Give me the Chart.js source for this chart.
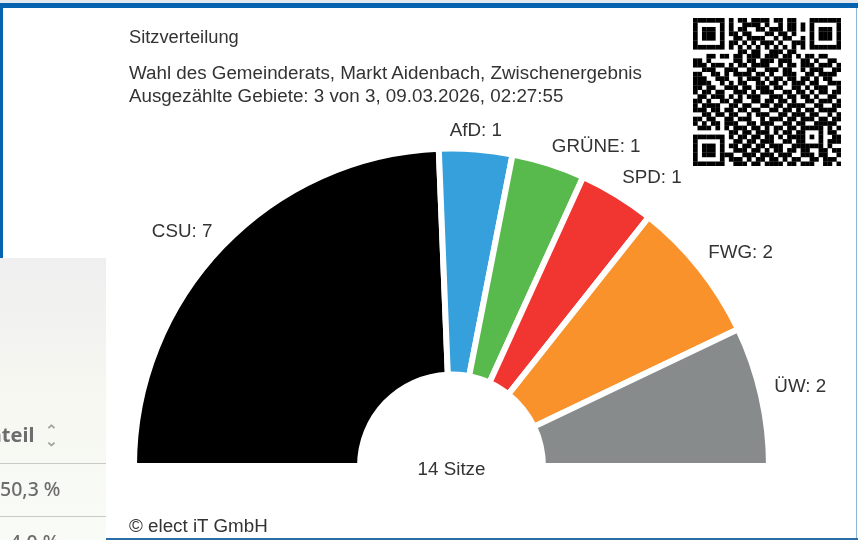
<!DOCTYPE html>
<html lang="de">
<head>
<meta charset="utf-8">
<title>Sitzverteilung</title>
<script src="https://cdn.jsdelivr.net/npm/chart.js@4"></script>
<style>
  html, body { margin: 0; padding: 0; background: #fff; }
  body { width: 858px; height: 540px; position: relative; overflow: hidden; font-family: "Liberation Sans", sans-serif; color: #333; }
  #chart { position: absolute; left: 0; top: 0; }
  .frame { position: absolute; background: #0563af; }
  .txt { position: absolute; left: 129px; font-size: 18.8px; line-height: 20px; white-space: nowrap; }
  #side { position: absolute; left: 0; top: 258px; width: 106px; height: 282px; overflow: hidden;
    background: linear-gradient(#efefef, #f3f3f1 30%, #f6f7f0 45%, #f9fbf7 100%); }
  #side div { position: absolute; font-family: "Noto Sans", sans-serif; color: #6d6d6d; white-space: nowrap; filter: blur(0.5px); }
  #side .rule { left: 0; width: 106px; height: 1px; background: #c9c9c6; filter: none; }
  #qr { position: absolute; left: 693px; top: 18px; filter: blur(0.7px); }
</style>
</head>
<body>
<div class="frame" style="left:0;top:0;width:858px;height:3px;background:#e4e9ed"></div>
<div class="frame" style="left:0;top:3px;width:858px;height:5px"></div>
<div class="frame" style="left:0;top:3px;width:3px;height:255px"></div>
<div class="frame" style="left:856px;top:8px;width:1px;height:531px;background:#8fb3d3"></div>
<div class="frame" style="left:106px;top:538px;width:752px;height:1.5px;background:#2a6ea8"></div>

<canvas id="chart" width="858" height="540"></canvas>

<div class="txt" style="top:27px;font-size:18.3px">Sitzverteilung</div>
<div class="txt" style="top:63px">Wahl des Gemeinderats, Markt Aidenbach, Zwischenergebnis</div>
<div class="txt" style="top:86px">Ausgezählte Gebiete: 3 von 3, 09.03.2026, 02:27:55</div>
<div class="txt" style="top:516px">© elect iT GmbH</div>

<div id="side">
  <div style="left:-25px;top:163px;font-size:20px;font-weight:700">Anteil</div>
  <div style="left:46px;top:166px;font-size:14px;line-height:11px;font-weight:700;color:#a3a3a3;transform:scaleX(1.1)">⌃<br>⌄</div>
  <div class="rule" style="top:205px"></div>
  <div style="left:0;top:217px;font-size:19.5px;font-weight:500">50,3 %</div>
  <div class="rule" style="top:258px"></div>
  <div style="left:10px;top:270px;font-size:19.5px;font-weight:500">4,0 %</div>
</div>

<canvas id="qr" width="148" height="148"></canvas>

<script>
const parties = ['CSU', 'AfD', 'GRÜNE', 'SPD', 'FWG', 'ÜW'];
const seats = [7, 1, 1, 1, 2, 2];
// slice sizes in degrees as they are drawn in the picture, not quite seats * 180 / 14
const sliceDegrees = [87.7, 13.4, 13.4, 13.9, 26.1, 25.5];
const partyColors = ['#000000', '#35a0dc', '#58b94d', '#f13531', '#fa922c', '#888b8b'];
const centerLabel = '14 Sitze';

// nudges so the labels land where the reference has them
const labelShiftX = [-13, -3, 36, 15, 11, 2];
const labelShiftY = [12, 19, 19, 15, 8, -0.5];

const qrRows = [
  '1111111 0 10110111101101100 0 1111111',
  '1000001 0 10011110100101101 0 1000001',
  '1011101 0 10110011011101101 0 1011101',
  '1011101 0 11011000110110100 0 1011101',
  '1011101 0 01101111001011001 0 1011101',
  '1000001 0 11010101110100111 0 1000001',
  '1111111 0 10101010101010101 0 1111111',
  '0000000 0 00110110011101100 0 0000000',
  '0001101101 1011101110 1101011011 000',
  '1101000001 1011011101 1100110100 110',
  '1110111010 1101111001 0110111011 101',
  '0011100111 0011001110 1100101110 011',
  '1100110101 1110110100 1110011011 110',
  '1110011100 1011101011 0110110101 100',
  '1111001010 1100110110 1011101100 111',
  '1101100111 0110111011 0011010111 001',
  '1011011001 1101011100 1101101011 011',
  '0110111010 1011100111 0110110100 110',
  '1101001101 1001101101 1010011011 101',
  '1011110011 0110011011 0111100110 011',
  '1110110110 1101100110 1101011011 110',
  '0011011011 0010111001 1011101100 101',
  '1101100110 1110010111 0110111011 011',
  '1010110111 0011011100 1101100111 110',
  '0111010101 1101101011 0110111110 101',
  '0000000011 0110111010 1101100010 110',
  '1111111010 1101101101 0111101010 011',
  '1000001001 1011011100 1101100010 111',
  '1011101011 0110110111 0011111110 100',
  '1011101001 1101101011 0110110011 011',
  '1011101110 0111011101 1100111011 001',
  '1000001011 1010110110 1011001101 110',
  '1111111001 1101101111 0110111001 101'
];

const qrCtx = document.getElementById('qr').getContext('2d');
const cell = 148 / qrRows.length;
qrCtx.fillStyle = '#000';
qrRows.forEach((row, y) => {
  [...row.replace(/ /g, '')].forEach((c, x) => {
    if (c === '1') qrCtx.fillRect(x * cell, y * cell, cell + 0.2, cell + 0.2);
  });
});

const outerLabels = {
  id: 'outerLabels',
  afterDatasetsDraw(chart) {
    const { ctx } = chart;
    const arcs = chart.getDatasetMeta(0).data;
    ctx.save();
    ctx.font = '18.8px "Liberation Sans", sans-serif';
    ctx.fillStyle = '#333';
    ctx.textAlign = 'center';
    ctx.textBaseline = 'middle';
    arcs.forEach((arc, i) => {
      const mid = (arc.startAngle + arc.endAngle) / 2;
      const r = arc.outerRadius + 38;
      ctx.fillText(parties[i] + ': ' + seats[i],
        arc.x + Math.cos(mid) * r + labelShiftX[i],
        arc.y + Math.sin(mid) * r + labelShiftY[i]);
    });
    ctx.fillText(centerLabel, arcs[0].x, arcs[0].y + 4);
    ctx.restore();
  }
};

new Chart(document.getElementById('chart'), {
  type: 'doughnut',
  data: {
    labels: parties,
    datasets: [{
      data: sliceDegrees,
      backgroundColor: partyColors,
      borderColor: '#fff',
      borderWidth: 6
    }]
  },
  options: {
    responsive: false,
    animation: false,
    rotation: -90,
    circumference: 180,
    cutout: '28.8%',
    layout: { padding: { left: 130.5, right: 85.5, top: 145.5, bottom: 71 } },
    plugins: { legend: { display: false }, tooltip: { enabled: false } }
  },
  plugins: [outerLabels]
});
</script>
</body>
</html>
